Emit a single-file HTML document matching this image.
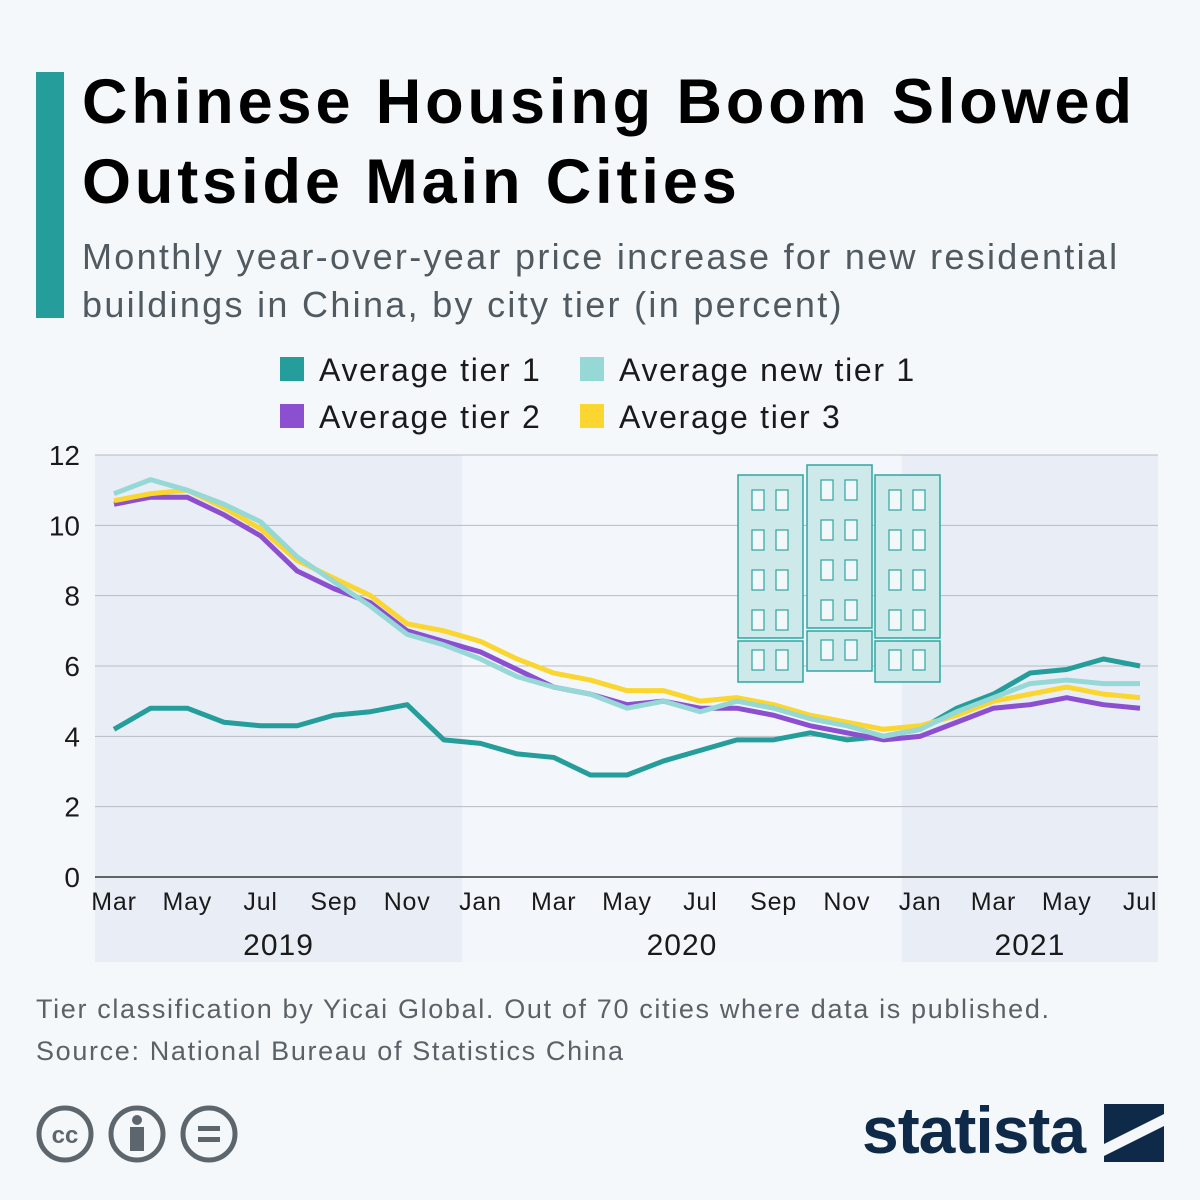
<!DOCTYPE html>
<html><head><meta charset="utf-8"><style>
body{margin:0;background:#f5f8fb;font-family:"Liberation Sans",sans-serif}
#wrap{position:relative;width:1200px;height:1200px;overflow:hidden;background:#f5f8fb}
.t{position:absolute;white-space:nowrap}
</style></head><body>
<div id="wrap">
<div class="t" style="left:36px;top:72px;width:28px;height:246px;background:#259e9b"></div>
<div class="t" style="left:82px;top:62px;font-size:63px;font-weight:bold;line-height:80px;color:#000;letter-spacing:3.9px">Chinese Housing Boom Slowed<br>Outside Main Cities</div>
<div class="t" style="left:82px;top:233px;font-size:36px;line-height:48px;color:#505a60;letter-spacing:2.3px">Monthly year-over-year price increase for new residential<br>buildings in China, by city tier (in percent)</div>
<div class="t" style="left:36px;top:988px;font-size:27px;line-height:42px;color:#5a6268;letter-spacing:1.65px">Tier classification by Yicai Global. Out of 70 cities where data is published.<br>Source: National Bureau of Statistics China</div>
<svg id="chart" width="1200" height="1200" style="position:absolute;left:0;top:0" font-family="Liberation Sans, sans-serif"></svg>
<svg width="240" height="70" style="position:absolute;left:34px;top:1100px">
<g fill="none" stroke="#5d666c" stroke-width="5"><circle cx="31" cy="34" r="26"/><circle cx="103" cy="34" r="26"/><circle cx="175" cy="34" r="26"/></g>
<text x="31" y="43" font-size="24" font-weight="bold" text-anchor="middle" fill="#5d666c" font-family="Liberation Sans">cc</text>
<circle cx="103" cy="20" r="5" fill="#5d666c"/><rect x="96" y="27" width="14" height="24" fill="#5d666c"/>
<rect x="164" y="26" width="22" height="5" fill="#5d666c"/><rect x="164" y="37" width="22" height="5" fill="#5d666c"/>
</svg>
<div class="t" style="left:862px;top:1092px;font-size:66px;font-weight:bold;color:#0f2a48;letter-spacing:-1px">statista</div>
<svg width="62" height="60" style="position:absolute;left:1104px;top:1104px"><rect width="60" height="58" fill="#0f2a48"/><path d="M0 40 L60 10 L60 22 L0 52Z" fill="#f5f8fb"/></svg>
</div>
<script>
const months=["Mar","Apr","May","Jun","Jul","Aug","Sep","Oct","Nov","Dec","Jan","Feb","Mar","Apr","May","Jun","Jul","Aug","Sep","Oct","Nov","Dec","Jan","Feb","Mar","Apr","May","Jun","Jul"];
const tier1=[4.2,4.8,4.8,4.4,4.3,4.3,4.6,4.7,4.9,3.9,3.8,3.5,3.4,2.9,2.9,3.3,3.6,3.9,3.9,4.1,3.9,4.0,4.2,4.8,5.2,5.8,5.9,6.2,6.0];
const newTier1=[10.9,11.3,11.0,10.6,10.1,9.1,8.4,7.7,6.9,6.6,6.2,5.7,5.4,5.2,4.8,5.0,4.7,5.0,4.8,4.5,4.3,4.0,4.2,4.7,5.1,5.5,5.6,5.5,5.5];
const tier2=[10.6,10.8,10.8,10.3,9.7,8.7,8.2,7.8,7.0,6.7,6.4,5.9,5.4,5.2,4.9,5.0,4.8,4.8,4.6,4.3,4.1,3.9,4.0,4.4,4.8,4.9,5.1,4.9,4.8];
const tier3=[10.7,10.9,11.0,10.5,9.9,9.0,8.5,8.0,7.2,7.0,6.7,6.2,5.8,5.6,5.3,5.3,5.0,5.1,4.9,4.6,4.4,4.2,4.3,4.6,5.0,5.2,5.4,5.2,5.1];
const yTicks=[0,2,4,6,8,10,12];
const years=[{label:"2019",from:0,to:9},{label:"2020",from:10,to:21},{label:"2021",from:22,to:28}];
const L=95,R=1158,T=455,B=877,x0=114,x1=1140;
const xs=i=>x0+(x1-x0)*i/(months.length-1);
const ys=v=>B-(B-T)*v/12;
const NS="http://www.w3.org/2000/svg",svg=document.getElementById('chart');
function mk(tag,at,parent){const e=document.createElementNS(NS,tag);for(const k in at)e.setAttribute(k,at[k]);(parent||svg).appendChild(e);return e;}
const step=(x1-x0)/(months.length-1);
years.forEach((y,j)=>{const a=j==0?L:xs(y.from)-step/2,b=j==years.length-1?R:xs(y.to)+step/2;
 const r=mk('rect',{x:a,y:T,width:b-a,height:962-T,fill:j==1?'#f3f6fa':'#e9eef6'});
 
 
 const t=mk('text',{x:(a+b)/2,y:955,'font-size':30,'text-anchor':'middle',fill:'#1a1a1a','letter-spacing':1});t.textContent=y.label;
 
 });
yTicks.forEach(v=>{const g=mk('line',{x1:L,x2:R,y1:ys(v),y2:ys(v),stroke:v==0?'#333':'#b8bcc2','stroke-width':v==0?1.5:1});
 
 
 const t=mk('text',{x:80,y:ys(v)+10,'font-size':28,'text-anchor':'end',fill:'#1a1a1a'});t.textContent=v;
 
 });
months.forEach((m,i)=>{if(i%2)return;const t=mk('text',{x:xs(i),y:910,'font-size':25,'text-anchor':'middle',fill:'#1a1a1a','letter-spacing':0.8});t.textContent=m;
 
 });
const bg=mk('g',{});


[[738,475,638,682],[807,465,628,671],[875,475,638,682]].forEach(([bx,top,mid,bot])=>{
 mk('rect',{x:bx,y:top,width:65,height:mid-top,fill:'#cde9ea',stroke:'#2fa5a1','stroke-width':1.5},bg);
 mk('rect',{x:bx,y:mid+3,width:65,height:bot-mid-3,fill:'#cde9ea',stroke:'#2fa5a1','stroke-width':1.5},bg);
 for(let r=0;r<4;r++)for(let c=0;c<2;c++)mk('rect',{x:bx+14+c*24,y:top+15+r*40,width:12,height:20,fill:'#f2f8fa',stroke:'#2fa5a1','stroke-width':1.2},bg);
 for(let c=0;c<2;c++)mk('rect',{x:bx+14+c*24,y:mid+12,width:12,height:20,fill:'#f2f8fa',stroke:'#2fa5a1','stroke-width':1.2},bg);
});
const series=[["average-tier-1",tier1,"#259e9b"],["average-new-tier-1",newTier1,"#96d8d6"],["average-tier-2",tier2,"#8c4fcf"],["average-tier-3",tier3,"#fad62e"]];
const order=[0,2,3,1];
order.forEach(k=>{const [n,d,c]=series[k];
 const p=mk('polyline',{points:d.map((v,i)=>xs(i)+','+ys(v)).join(' '),fill:'none',stroke:c,'stroke-width':5,'stroke-linejoin':'round'});
 
 });
const leg=[["Average tier 1","#259e9b",280,370],["Average new tier 1","#96d8d6",580,370],["Average tier 2","#8c4fcf",280,417],["Average tier 3","#fad62e",580,417]];
leg.forEach(([t,c,x,y])=>{const g=mk('g',{});
 
 
 mk('rect',{x:x,y:y-13,width:24,height:24,fill:c},g);
 const tx=mk('text',{x:x+39,y:y+11,'font-size':32,fill:'#1a1a1a','letter-spacing':1.7},g);tx.textContent=t;});
</script>
</body></html>
